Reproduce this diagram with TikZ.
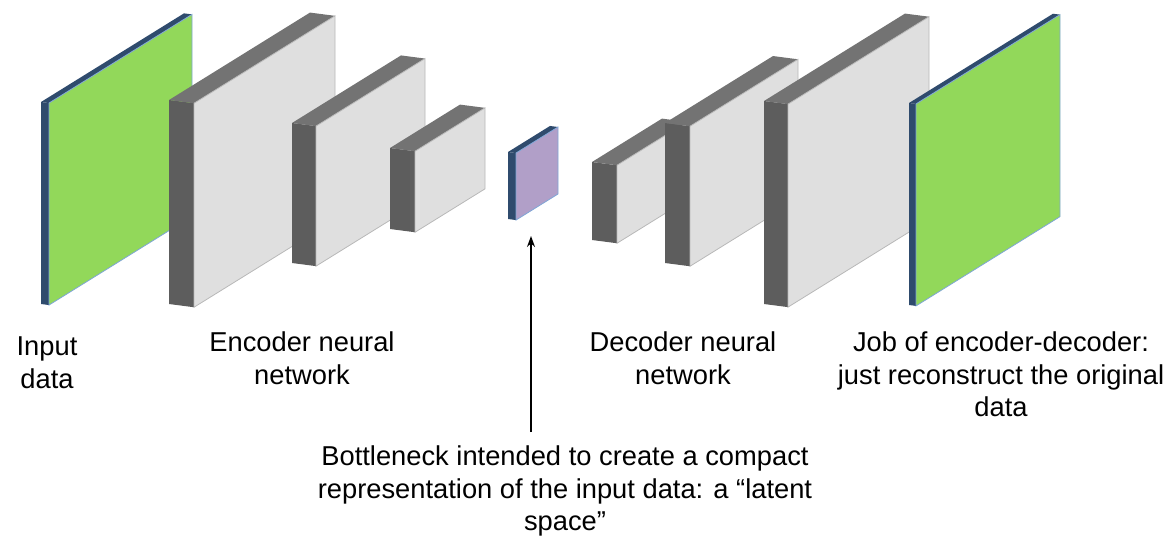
\documentclass[tikz,border=0pt]{standalone}
\usepackage{fontspec}
\setmainfont{Liberation Sans}
\usetikzlibrary{arrows.meta}

\definecolor{sidegray}{HTML}{5D5D5D}
\definecolor{topgray}{HTML}{737373}
\definecolor{facegray}{HTML}{DFDFDF}
\definecolor{edgegray}{HTML}{B8B8B8}
\definecolor{rimblue}{HTML}{2F4B6D}
\definecolor{edgeblue}{HTML}{7FA6D6}
\definecolor{datagreen}{HTML}{92D85A}
\definecolor{latentpurple}{HTML}{B19FC8}

% #1 left x, #2 top y, #3 bottom y, #4 depth, #5 run,
% #6 side colour, #7 top colour, #8 face style
\newcommand{\layer}[8]{%
  \pgfmathsetmacro\lyrdrop{0.13*#4}
  \pgfmathsetmacro\lyrrise{0.62*#5}
  \fill[#6] (#1,#2) -- ++(#4,\lyrdrop) -- (#1+#4,#3+\lyrdrop) -- (#1,#3) -- cycle;
  \fill[#7] (#1,#2) -- ++(#4,\lyrdrop) -- ++(#5,-\lyrrise) -- ++(-#4,-\lyrdrop) -- cycle;
  \filldraw[#8] (#1+#4,#2+\lyrdrop) -- ++(#5,-\lyrrise)
    -- (#1+#4+#5,#3+\lyrdrop-\lyrrise) -- (#1+#4,#3+\lyrdrop) -- cycle;
}

\begin{document}
\begin{tikzpicture}[x=1pt,y=-1pt,
    caption/.style={anchor=north,inner sep=0pt,align=center,
      font=\fontsize{27.3}{32.5}\selectfont},
    pointer/.style={-{Stealth[length=11pt,width=8pt]},line width=1.4pt}]
  \useasboundingbox (0,0) rectangle (1171,536);

  % encoder side
  \layer{41}{102}{304}{8}{143}{rimblue}{rimblue}{fill=datagreen,draw=edgeblue,line width=0.8pt}
  \layer{169}{100}{304}{25}{141}{sidegray}{topgray}{fill=facegray,draw=edgegray,line width=0.8pt}
  \layer{292}{123}{263}{24}{109}{sidegray}{topgray}{fill=facegray,draw=edgegray,line width=0.8pt}
  \layer{390}{148}{229}{25}{70}{sidegray}{topgray}{fill=facegray,draw=edgegray,line width=0.8pt}

  % bottleneck
  \layer{508}{152}{219}{8}{42}{rimblue}{rimblue}{fill=latentpurple,draw=edgeblue,line width=0.8pt}
  \coordinate (latent) at (531,236);

  % decoder side
  \layer{592}{162}{240}{25}{70}{sidegray}{topgray}{fill=facegray,draw=edgegray,line width=0.8pt}
  \layer{665}{123}{263}{25}{108}{sidegray}{topgray}{fill=facegray,draw=edgegray,line width=0.8pt}
  \layer{764}{101}{304}{24}{141}{sidegray}{topgray}{fill=facegray,draw=edgegray,line width=0.8pt}
  \layer{909}{103}{305}{7}{144}{rimblue}{rimblue}{fill=datagreen,draw=edgeblue,line width=0.8pt}

  \node[caption] (input) at (47,337) {Input\\data};
  \node[caption] (encoder) at (302,332) {Encoder neural\\network};
  \node[caption] (decoder) at (683,332) {Decoder neural\\network};
  \node[caption] (job) at (1001,332) {Job of encoder-decoder:\\just reconstruct the original\\data};
  \node[caption] (bneck) at (565,446)
    {Bottleneck intended to create a compact\\
     representation of the input data: a “latent\\
     space”};

  \draw[pointer] ([yshift=14pt]bneck.north -| latent) -- (latent);
\end{tikzpicture}
\end{document}
